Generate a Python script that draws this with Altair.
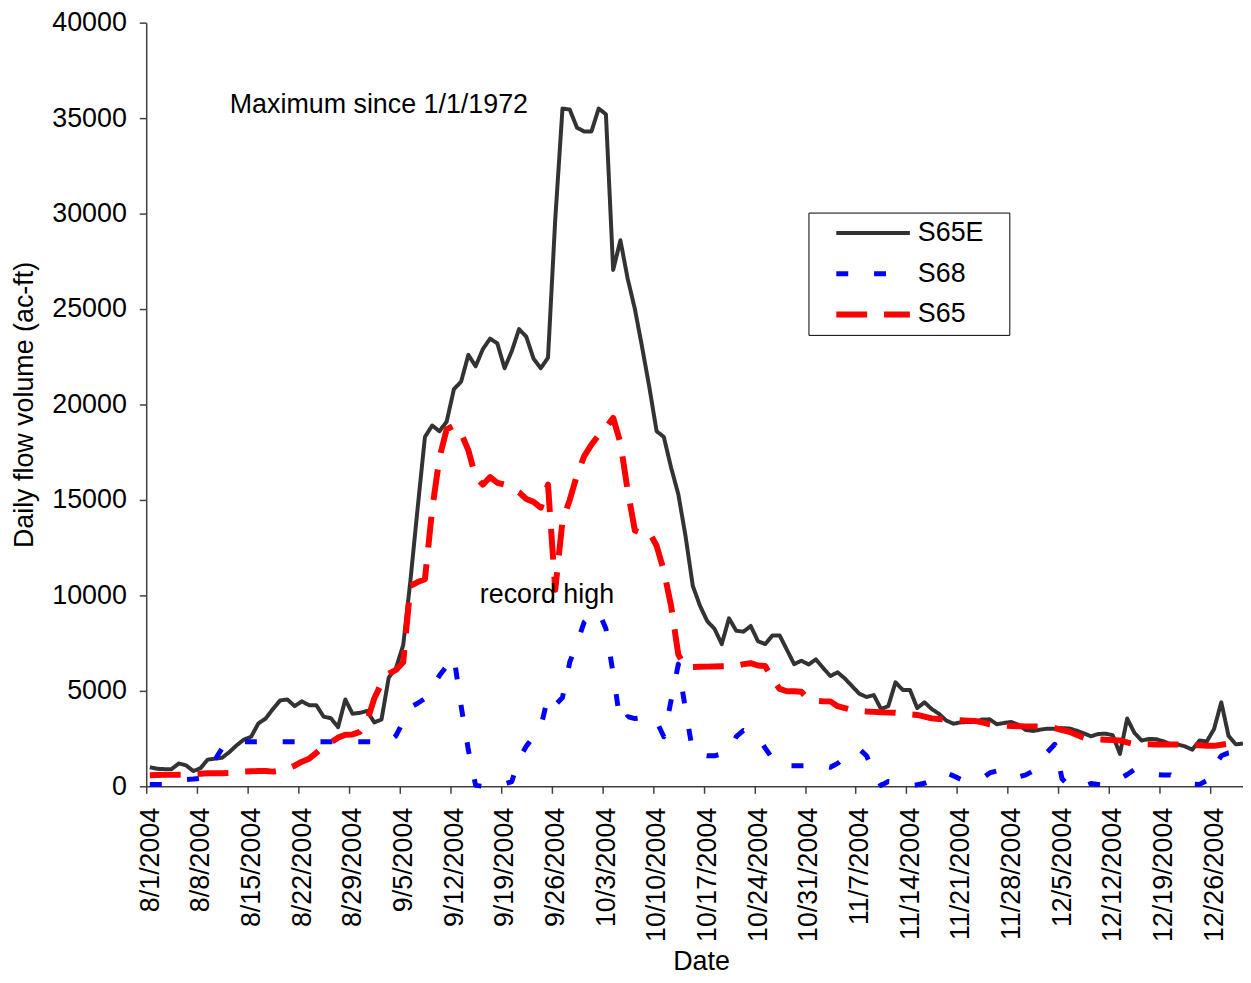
import altair as alt
import pandas as pd

# ---------------- data ----------------
start_date = "2004-08-01 12:00"
n_days = 152

s65e = [1000, 920, 900, 900, 1200, 1100, 800, 950, 1400, 1450,
        1500, 1800, 2150, 2450, 2600, 3300, 3550, 4050, 4500, 4550,
        4200, 4450, 4250, 4250, 3650, 3570, 3100, 4550, 3800, 3850,
        3950, 3350, 3500, 5700, 6200, 7400, 10800, 14600, 18300, 18900,
        18600, 19100, 20800, 21200, 22600, 22000, 22900, 23450, 23200, 21900,
        22800, 23950, 23550, 22400, 21900, 22450, 29700, 35500, 35450, 34500,
        34300, 34300, 35500, 35200, 27050, 28600, 26600, 25000, 23000, 20900,
        18600, 18300, 16700, 15300, 13100, 10500, 9450, 8650, 8250, 7450,
        8800, 8150, 8100, 8400, 7600, 7450, 7900, 7900, 7150, 6400,
        6580, 6380, 6650, 6200, 5780, 5970, 5650, 5250, 4850, 4680,
        4780, 4050, 4200, 5450, 5050, 5050, 4100, 4400, 4050, 3800,
        3450, 3280, 3350, 3370, 3380, 3500, 3510, 3250, 3320, 3370,
        3220, 2950, 2900, 2970, 3020, 3020, 3050, 3030, 2920, 2780,
        2620, 2740, 2760, 2680, 1700, 3550, 2800, 2400, 2480, 2470,
        2360, 2200, 2190, 2090, 1920, 2400, 2350, 3000, 4400, 2650,
        2200, 2240]

s68 = [100, 100, 100, 200, 300, 360, 380, 420, 800, 1400,
       2000, 2300, 2330, 2330, 2330, 2330, 2330, 2330, 2330, 2330,
       2330, 2330, 2330, 2330, 2330, 2330, 2330, 2330, 2330, 2330,
       2330, 2330, 2330, 2330, 2650, 3400, 4150, 4350, 4600, 5200,
       5800, 6300, 6800, 4200, 1900, 50, 0, 0, 0, 120,
       250, 1450, 2100, 2600, 3100, 4700, 4250, 4650, 6500, 7500,
       8600, 8950, 9150, 8250, 5900, 3300, 3650, 3550, 3600, 3650,
       3400, 2600, 4500, 6400, 4000, 1800, 1650, 1600, 1600, 1700,
       1800, 2600, 2930, 2830, 2600, 2000, 1450, 1100, 1080, 1080,
       1080, 1080, 1080, 1080, 1000, 1200, 1500, 1750, 1950, 1600,
       700, 50, 250, 200, 100, 50, 80, 160, 300, 450,
       700, 550, 370, 380, 400, 420, 700, 800, 600, 450,
       500, 600, 800, 1250, 1800, 2200, 400, 0, 0, 0,
       150, 100, 50, 200, 400, 620, 880, 800, 700, 620,
       590, 590, 400, 250, 120, 100, 300, 1000, 1600, 1750,
       1800, 1850]

s65 = [580, 590, 600, 600, 610, 620, 640, 660, 680, 680,
       690, 700, 740, 780, 790, 800, 800, 770, 820, 920,
       1080, 1290, 1450, 1750, 2100, 2300, 2550, 2700, 2720, 2850,
       3400, 4600, 5400, 5900, 6100, 6500, 10500, 10700, 10850, 14500,
       17200, 18700, 18900, 18500, 17600, 16200, 15800, 16200, 15900, 15800,
       15600, 15400, 15050, 14900, 14600, 15800, 10300, 13900, 15000, 16300,
       17300, 17900, 18400, 18800, 19300, 18000, 15500, 13400, 13250, 13300,
       12600, 11300, 9450, 6900, 6230, 6250, 6260, 6270, 6280, 6290,
       6300, 6310, 6400, 6450, 6330, 6300, 5630, 5100, 4980, 4980,
       4950, 4550, 4480, 4450, 4450, 4200, 4100, 4000, 3950, 3920,
       3900, 3880, 3860, 3850, 3800, 3770, 3740, 3650, 3560, 3530,
       3500, 3480, 3460, 3440, 3420, 3350, 3250, 3190, 3170, 3160,
       3150, 3140, 3140, 3130, 3120, 3050, 2950, 2860, 2700, 2550,
       2480, 2460, 2440, 2420, 2400, 2300, 2210, 2200, 2200, 2190,
       2190, 2190, 2190, 2180, 2160, 2150, 2130, 2120, 2180, 2240,
       2240, 2240]

series_names = ["S65E", "S68", "S65"]
series_colors = ["#333333", "#0000ff", "#ff0000"]
series_dash = [[1, 0], [12, 26], [31, 17]]
series_width = [4, 6, 5]

tick_dates = ["2004-08-01", "2004-08-08", "2004-08-15", "2004-08-22", "2004-08-29",
              "2004-09-05", "2004-09-12", "2004-09-19", "2004-09-26", "2004-10-03",
              "2004-10-10", "2004-10-17", "2004-10-24", "2004-10-31", "2004-11-07",
              "2004-11-14", "2004-11-21", "2004-11-28", "2004-12-05", "2004-12-12",
              "2004-12-19", "2004-12-26"]
y_ticks = [0, 5000, 10000, 15000, 20000, 25000, 30000, 35000, 40000]

ann_text = ["Maximum since 1/1/1972", "record high"]
ann_date = ["2004-08-12T13:00:00", "2004-09-16T02:00:00"]
ann_value = [35700, 10000]

# ---------------- build tables ----------------
dates = pd.date_range(start_date, periods=n_days, freq="D").strftime("%Y-%m-%dT%H:%M:%S")
rows = []
for name, vals in zip(series_names, [s65e, s68, s65]):
    for d, v in zip(dates, vals):
        rows.append({"date": d, "value": v, "series": name})
df = pd.DataFrame(rows)
ann = pd.DataFrame({"date": ann_date, "value": ann_value, "text": ann_text})

def dt(s, hours=0):
    y, m, d = [int(p) for p in s.split("-")]
    return alt.DateTime(year=y, month=m, date=d, hours=hours)

FONT = "Liberation Sans, Arial, sans-serif"
FS = 27
AX = "#404040"

x_enc = alt.X(
    "date:T",
    scale=alt.Scale(domain=[dt("2004-08-01"), dt("2004-12-30", 12)]),
    axis=alt.Axis(
        values=[dt(t) for t in tick_dates],
        format="%-m/%-d/%Y",
        labelAngle=270, labelAlign="right", labelBaseline="middle",
        labelPadding=14, labelOffset=4, tickSize=7, grid=False,
        title="Date", titleX=558, titleY=176,
        titleAlign="center", titleBaseline="middle",
    ),
)
y_enc = alt.Y(
    "value:Q",
    scale=alt.Scale(domain=[0, 40000], nice=False),
    axis=alt.Axis(
        values=y_ticks, format="d", grid=False, tickSize=7, labelPadding=13,
        title="Daily flow volume (ac-ft)", titleX=-122, titleY=384,
        titleAngle=270, titleAlign="center", titleBaseline="middle",
    ),
)

# invisible title on the right only widens the legend box like the reference
LEG = dict(title="x")

lines = alt.Chart(df).mark_line(strokeJoin="round").encode(
    x=x_enc,
    y=y_enc,
    color=alt.Color("series:N", scale=alt.Scale(domain=series_names, range=series_colors),
                    legend=alt.Legend(**LEG)),
    strokeDash=alt.StrokeDash("series:N", scale=alt.Scale(domain=series_names, range=series_dash),
                              legend=alt.Legend(**LEG)),
    strokeWidth=alt.StrokeWidth("series:N", scale=alt.Scale(domain=series_names, range=series_width),
                                legend=alt.Legend(**LEG)),
    order=alt.Order("date:T"),
)

texts = alt.Chart(ann).mark_text(align="left", baseline="middle", fontSize=FS,
                                 font=FONT, color="black").encode(
    x=alt.X("date:T"),
    y=alt.Y("value:Q"),
    text="text:N",
)

chart = alt.layer(lines, texts).properties(
    width=1103, height=768,
    padding={"left": 139, "top": 12, "right": 0, "bottom": 187},
    autosize=alt.AutoSizeParams(type="none"),
).configure_view(stroke=None).configure_axis(
    labelFont=FONT, titleFont=FONT, labelFontSize=FS, titleFontSize=FS,
    titleFontWeight="normal", labelColor="black", titleColor="black",
    domainColor=AX, tickColor=AX, domainWidth=1.5, tickWidth=1.5,
).configure_legend(
    orient="none", legendX=666, legendY=191,
    padding=7, strokeColor="black", fillColor="white",
    labelFont=FONT, labelFontSize=FS, labelColor="black",
    symbolType="stroke", symbolSize=5476, symbolOffset=18, labelOffset=5,
    clipHeight=27, rowPadding=13,
    titleOrient="right", titleFont=FONT, titleFontSize=FS, titleFontWeight="normal",
    titleOpacity=0, titlePadding=5,
)

chart.save("out.html", embed_options={"renderer": "svg", "actions": False})
